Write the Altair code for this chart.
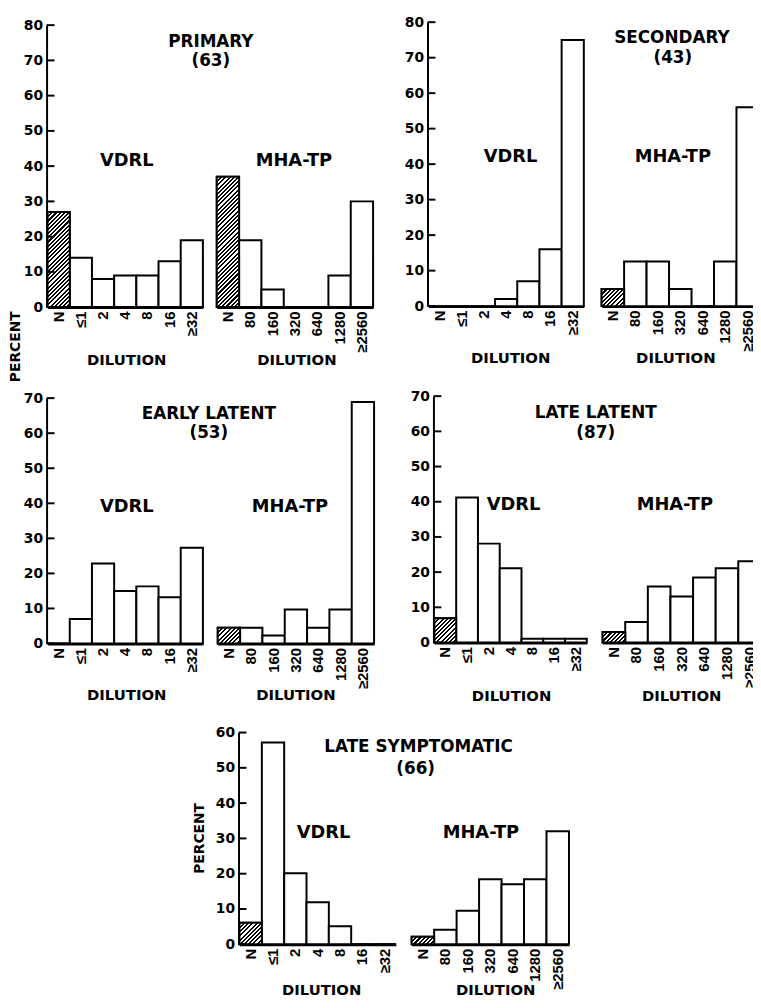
import math
import altair as alt
import pandas as pd

# ---------------- data ----------------
vdrl_cats = ["N", "≤1", "2", "4", "8", "16", "≥32"]
mha_cats = ["N", "80", "160", "320", "640", "1280", "≥2560"]

primary_vdrl = [27, 14, 8, 9, 9, 13, 19]
primary_mha = [37, 19, 5, 0, 0, 9, 30]
secondary_vdrl = [0, 0, 0, 2, 7, 16, 75]
secondary_mha = [4.8, 12.6, 12.6, 4.8, 0, 12.6, 56]
early_vdrl = [0, 7, 22.8, 15, 16.3, 13.2, 27.3]
early_mha = [4.5, 4.5, 2.3, 9.7, 4.5, 9.7, 68.9]
late_vdrl = [6.9, 41.2, 28.1, 21.1, 1.1, 1.1, 1.1]
late_mha = [3, 5.8, 15.9, 13.1, 18.5, 21.1, 23.1]
sympt_vdrl = [6.1, 57.2, 20.1, 11.9, 5.1, 0, 0]
sympt_mha = [2.1, 4.1, 9.5, 18.4, 17, 18.4, 32]

stage_titles = ["PRIMARY", "SECONDARY", "EARLY LATENT", "LATE LATENT", "LATE SYMPTOMATIC"]
stage_counts = ["(63)", "(43)", "(53)", "(87)", "(66)"]
stage_ymax = [80, 80, 70, 70, 60]
test_names = ["VDRL", "MHA-TP"]
x_title = "DILUTION"
y_title = "PERCENT"

# ---------------- layout / style ----------------
W, H = 753, 992
OFF = 8
FONT = "DejaVu Sans"
LABEL_FONT = "Liberation Sans"


def px(v):
    return v - OFF


layout = [
    dict(yax=47, vx=(48, 205), mx=(219, 377), y0=305, ytop=20, title=(213, 37), count=(213, 56),
         vlab=(128, 157), mlab=(297, 157), dil=((128, 359), (300, 359))),
    dict(yax=432, vx=(433, 590), mx=(608, 767), y0=304, ytop=17, title=(679, 33), count=(680, 53),
         vlab=(516, 153), mlab=(680, 153), dil=((516, 356), (683, 356))),
    dict(yax=47, vx=(48, 205), mx=(220, 378), y0=645, ytop=397, title=(211, 413), count=(211, 432),
         vlab=(128, 507), mlab=(293, 507), dil=((128, 697), (299, 697))),
    dict(yax=438, vx=(439, 593), mx=(609, 769), y0=644, ytop=395, title=(602, 412), count=(602, 432),
         vlab=(519, 505), mlab=(682, 505), dil=((517, 698), (689, 698))),
    dict(yax=241, vx=(242, 400), mx=(416, 575), y0=949, ytop=735, title=(423, 750), count=(420, 772),
         vlab=(327, 837), mlab=(486, 837), dil=((325, 995), (501, 995))),
]
series = [
    (primary_vdrl, primary_mha),
    (secondary_vdrl, secondary_mha),
    (early_vdrl, early_mha),
    (late_vdrl, late_mha),
    (sympt_vdrl, sympt_mha),
]


def hatch_fill(w, h, period=3.0, ink=0.5):
    s = (w + h) / (w * w + h * h)
    x2, y2 = w * s, h * s
    n = (w + h) / math.sqrt(2) / period
    stops = []
    k = 0
    while k < n:
        a = k / n
        b = min((k + ink) / n, 1.0)
        c = min((k + 1) / n, 1.0)
        stops += [
            {"offset": round(a, 5), "color": "black"},
            {"offset": round(b, 5), "color": "black"},
            {"offset": round(b, 5), "color": "white"},
            {"offset": round(c, 5), "color": "white"},
        ]
        k += 1
    return {"gradient": "linear", "x1": 0, "y1": 0, "x2": round(x2, 5), "y2": round(y2, 5), "stops": stops}


def sub_panel(cats, vals, x0, x1, y0, ytop, ymax, yax=None):
    df = pd.DataFrame({"cat": cats, "val": vals})
    xs = alt.Scale(domain=cats, range=[px(x0), px(x1)], paddingInner=0, paddingOuter=0)
    ys = alt.Scale(domain=[0, ymax], range=[px(y0), px(ytop)], nice=False, zero=True)
    xaxis = alt.Axis(orient="bottom", offset=px(y0) - H, title=None, ticks=False, grid=False,
                     domainWidth=3, domainColor="black", labelAngle=270, labelFont=LABEL_FONT,
                     labelFontSize=15, labelFontWeight="bold", labelColor="black",
                     labelPadding=4, labelOverlap=False)
    if yax is not None:
        yaxis = alt.Axis(orient="left", offset=-px(yax), title=None, ticks=False, grid=False,
                         values=list(range(0, ymax + 1, 10)), domainWidth=2, domainColor="black",
                         labelFont=FONT, labelFontSize=14, labelFontWeight="bold", labelColor="black",
                         labelPadding=4)
    else:
        yaxis = None
    bars = alt.Chart(df).mark_bar(fill="white", stroke="black", strokeWidth=2, clip=True).encode(
        x=alt.X("cat:N", sort=cats, scale=xs, axis=xaxis),
        y=alt.Y("val:Q", scale=ys, axis=yaxis),
    )
    layers = [bars]
    if vals[0] > 0:
        w = (x1 - x0) / len(cats)
        h = vals[0] * (y0 - ytop) / ymax
        hatch = alt.Chart(df.iloc[[0]]).mark_bar(fill=hatch_fill(w, h), stroke="black",
                                                  strokeWidth=2, clip=True).encode(
            x=alt.X("cat:N", sort=cats, scale=xs, axis=xaxis),
            y=alt.Y("val:Q", scale=ys, axis=yaxis),
        )
        layers.append(hatch)
    if yax is not None:
        tdf = pd.DataFrame({"val": list(range(0, ymax + 1, 10))})
        ticks = alt.Chart(tdf).mark_rule(stroke="black", strokeWidth=2).encode(
            y=alt.Y("val:Q", scale=ys, axis=yaxis),
            x=alt.value(px(yax)),
            x2=alt.value(px(yax) + 8),
        )
        layers.append(ticks)
    return alt.layer(*layers)


def label(s, pos, size, angle=None):
    kw = dict(font=FONT, fontSize=size, fontWeight="bold", color="black", align="center", baseline="middle")
    if angle is not None:
        kw["angle"] = angle
    return alt.Chart(pd.DataFrame({"s": [s]})).mark_text(**kw).encode(
        text="s:N", x=alt.value(px(pos[0])), y=alt.value(px(pos[1]))
    )


panels = []
texts = []
for i, g in enumerate(layout):
    vd, mh = series[i]
    ymax = stage_ymax[i]
    panels.append(sub_panel(vdrl_cats, vd, g["vx"][0], g["vx"][1], g["y0"], g["ytop"], ymax, yax=g["yax"]))
    panels.append(sub_panel(mha_cats, mh, g["mx"][0], g["mx"][1], g["y0"], g["ytop"], ymax))
    texts.append(label(stage_titles[i], g["title"], 17))
    texts.append(label(stage_counts[i], g["count"], 17))
    texts.append(label(test_names[0], g["vlab"], 18))
    texts.append(label(test_names[1], g["mlab"], 18))
    texts.append(label(x_title, g["dil"][0], 15))
    texts.append(label(x_title, g["dil"][1], 15))

texts.append(label(y_title, (16, 345), 14, angle=270))
texts.append(label(y_title, (202, 842), 14, angle=270))

chart = alt.layer(*panels, *texts).resolve_scale(x="independent", y="independent").properties(
    width=W, height=H, padding=0, autosize=alt.AutoSizeParams(type="none")
).configure_view(stroke="transparent")

chart.save("out.html", embed_options={"renderer": "svg", "actions": False})
